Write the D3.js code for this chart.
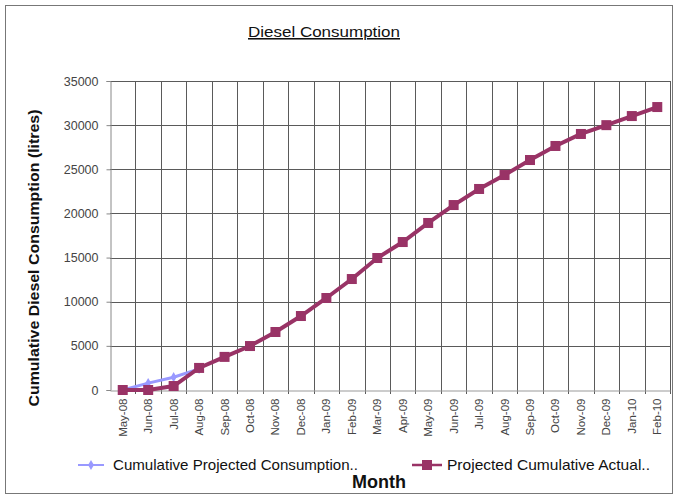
<!DOCTYPE html>
<html>
<head>
<meta charset="utf-8">
<script src="https://cdn.jsdelivr.net/npm/d3@7"></script>
<style>
  body { margin: 0; background: #fff; }
  text { font-family: "Liberation Sans", Arial, sans-serif; }
</style>
</head>
<body>
<script>
// chart data
var months = ["May-08", "Jun-08", "Jul-08", "Aug-08", "Sep-08", "Oct-08", "Nov-08", "Dec-08",
              "Jan-09", "Feb-09", "Mar-09", "Apr-09", "May-09", "Jun-09", "Jul-09", "Aug-09",
              "Sep-09", "Oct-09", "Nov-09", "Dec-09", "Jan-10", "Feb-10"];
var projected = [0, 780, 1450, 2400];
var actual = [0, 0, 450, 2500, 3750, 4980, 6570, 8380, 10420, 12570, 14950, 16760,
              18920, 20950, 22770, 24350, 26050, 27640, 29000, 30000, 31030, 32050];
var yTicks = [0, 5000, 10000, 15000, 20000, 25000, 30000, 35000];

var width = 678, height = 499;
var plotLeft = 110, plotRight = 670, plotTop = 81, plotBottom = 390;

var svg = d3.select("body").append("svg")
    .attr("width", width)
    .attr("height", height);

// outer frame
svg.append("rect")
    .attr("x", 5.5).attr("y", 5.5)
    .attr("width", 667).attr("height", 488)
    .attr("fill", "#fff")
    .attr("stroke", "#777");

var x = d3.scaleBand().domain(months).range([plotLeft, plotRight]);
var y = d3.scaleLinear().domain([0, 35000]).range([plotBottom, plotTop]);

// horizontal gridlines
svg.append("g").selectAll("line")
    .data(yTicks.slice(1))
    .enter().append("line")
    .attr("x1", plotLeft).attr("x2", plotRight)
    .attr("y1", function(d) { return Math.round(y(d)) + 0.5; })
    .attr("y2", function(d) { return Math.round(y(d)) + 0.5; })
    .attr("stroke", "#5a5a5a");

// vertical gridlines at category boundaries
svg.append("g").selectAll("line")
    .data(months)
    .enter().append("line")
    .attr("x1", function(d, i) { return Math.round(plotLeft + (i + 1) * x.step()) + 0.5; })
    .attr("x2", function(d, i) { return Math.round(plotLeft + (i + 1) * x.step()) + 0.5; })
    .attr("y1", plotTop).attr("y2", plotBottom + 4)
    .attr("stroke", "#5a5a5a");

// y axis
var yAxis = svg.append("g")
    .attr("transform", "translate(" + (plotLeft + 0.5) + ",0)")
    .call(d3.axisLeft(y).tickValues(yTicks).tickSize(4).tickPadding(8).tickFormat(d3.format("d")));
yAxis.select(".domain").attr("stroke", "#888");
yAxis.selectAll(".tick line").attr("stroke", "#888");
yAxis.selectAll("text")
    .attr("fill", "#444")
    .style("font-size", "12.5px")
    .style("font-family", "Liberation Sans, Arial, sans-serif");

// x axis
var xAxis = svg.append("g")
    .attr("transform", "translate(0," + (plotBottom + 0.5) + ")")
    .call(d3.axisBottom(x).tickSize(0).tickPadding(0));
xAxis.select(".domain").attr("stroke", "#999");
xAxis.selectAll("text")
    .attr("fill", "#444")
    .style("font-size", "11.5px")
    .style("font-family", "Liberation Sans, Arial, sans-serif")
    .attr("text-anchor", "end")
    .attr("transform", "translate(4,8) rotate(-90)")
    .attr("dy", "0")
    .attr("y", 0);

var cx = function(i) { return x(months[i]) + x.bandwidth() / 2; };

// projected series
svg.append("path")
    .datum(projected)
    .attr("fill", "none")
    .attr("stroke", "#9999ff")
    .attr("stroke-width", 3)
    .attr("d", d3.line().x(function(d, i) { return cx(i); }).y(function(d) { return y(d); }));
svg.append("g").selectAll("path")
    .data(projected)
    .enter().append("path")
    .attr("d", d3.symbol().type(d3.symbolDiamond).size(30))
    .attr("transform", function(d, i) { return "translate(" + cx(i) + "," + y(d) + ")"; })
    .attr("fill", "#9999ff");

// actual series
svg.append("path")
    .datum(actual)
    .attr("fill", "none")
    .attr("stroke", "#993366")
    .attr("stroke-width", 4)
    .attr("d", d3.line().x(function(d, i) { return cx(i); }).y(function(d) { return y(d); }));
svg.append("g").selectAll("rect")
    .data(actual)
    .enter().append("rect")
    .attr("x", function(d, i) { return cx(i) - 5; })
    .attr("y", function(d) { return y(d) - 5; })
    .attr("width", 10).attr("height", 10)
    .attr("fill", "#993366");

// title
svg.append("text")
    .attr("x", 324).attr("y", 37)
    .attr("text-anchor", "middle")
    .style("font-size", "15.5px")
    .style("text-decoration", "underline")
    .attr("textLength", 152)
    .attr("lengthAdjust", "spacingAndGlyphs")
    .attr("fill", "#111")
    .text("Diesel Consumption");

// y axis title
svg.append("text")
    .attr("transform", "translate(39,258) rotate(-90)")
    .attr("text-anchor", "middle")
    .style("font-size", "15px")
    .style("font-weight", "bold")
    .attr("textLength", 297)
    .attr("lengthAdjust", "spacingAndGlyphs")
    .attr("fill", "#111")
    .text("Cumulative Diesel Consumption (litres)");

// x axis title
svg.append("text")
    .attr("x", 379).attr("y", 488)
    .attr("text-anchor", "middle")
    .style("font-size", "18px")
    .style("font-weight", "bold")
    .attr("fill", "#111")
    .text("Month");

// legend
var legend = svg.append("g");
legend.append("line")
    .attr("x1", 78).attr("x2", 104).attr("y1", 465).attr("y2", 465)
    .attr("stroke", "#9999ff").attr("stroke-width", 2);
legend.append("path")
    .attr("d", d3.symbol().type(d3.symbolDiamond).size(30))
    .attr("transform", "translate(91,465)")
    .attr("fill", "#9999ff");
legend.append("text")
    .attr("x", 113).attr("y", 470)
    .style("font-size", "14.5px")
    .attr("textLength", 245)
    .attr("lengthAdjust", "spacingAndGlyphs")
    .attr("fill", "#111")
    .text("Cumulative Projected Consumption..");

legend.append("line")
    .attr("x1", 412).attr("x2", 442).attr("y1", 465).attr("y2", 465)
    .attr("stroke", "#993366").attr("stroke-width", 2.5);
legend.append("rect")
    .attr("x", 422).attr("y", 460).attr("width", 10).attr("height", 10)
    .attr("fill", "#993366");
legend.append("text")
    .attr("x", 447).attr("y", 470)
    .style("font-size", "14.5px")
    .attr("textLength", 203)
    .attr("lengthAdjust", "spacingAndGlyphs")
    .attr("fill", "#111")
    .text("Projected Cumulative Actual..");
</script>
</body>
</html>
